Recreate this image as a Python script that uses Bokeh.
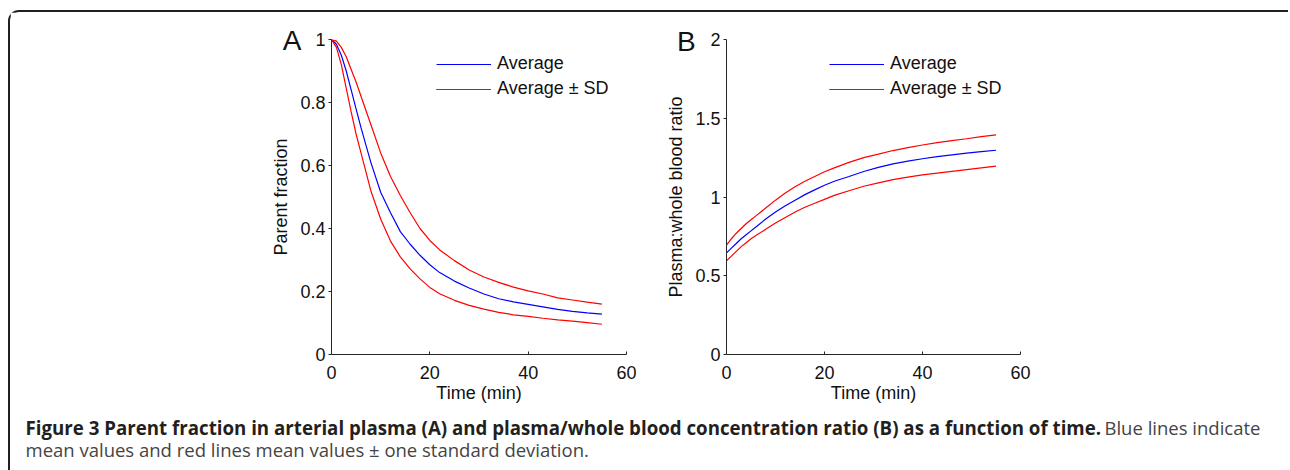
from bokeh.plotting import figure
from bokeh.models import Range1d, FixedTicker, Legend, LegendItem, Label
from bokeh.layouts import row, column
from bokeh.embed import file_html
from bokeh.resources import INLINE

# ---------------- data ----------------
time_min = [0, 1, 2, 3, 4, 5, 6, 8, 10, 12, 14, 16, 18, 20, 22, 25, 28, 31, 34, 37, 40, 43, 46, 49, 52, 55]

parent_avg = [1.0, 0.985, 0.95, 0.90, 0.84, 0.78, 0.72, 0.61, 0.515, 0.45, 0.39, 0.35, 0.315, 0.285, 0.26,
              0.233, 0.211, 0.192, 0.177, 0.167, 0.159, 0.151, 0.143, 0.137, 0.132, 0.128]
parent_hi = [1.0, 0.995, 0.975, 0.945, 0.905, 0.865, 0.82, 0.73, 0.64, 0.565, 0.505, 0.45, 0.40, 0.362, 0.332,
             0.298, 0.268, 0.246, 0.229, 0.214, 0.202, 0.192, 0.180, 0.173, 0.166, 0.160]
parent_lo = [1.0, 0.975, 0.92, 0.845, 0.77, 0.70, 0.64, 0.52, 0.43, 0.36, 0.31, 0.272, 0.24, 0.213, 0.193,
             0.172, 0.156, 0.144, 0.134, 0.126, 0.121, 0.115, 0.110, 0.106, 0.101, 0.096]

ratio_avg = [0.645, 0.675, 0.705, 0.735, 0.76, 0.785, 0.81, 0.86, 0.905, 0.945, 0.98, 1.015, 1.045, 1.075, 1.10,
             1.13, 1.162, 1.188, 1.21, 1.228, 1.243, 1.256, 1.267, 1.278, 1.288, 1.297]
ratio_hi = [0.695, 0.735, 0.77, 0.80, 0.83, 0.855, 0.88, 0.93, 0.98, 1.025, 1.065, 1.10, 1.13, 1.16, 1.185,
            1.22, 1.25, 1.272, 1.295, 1.313, 1.33, 1.345, 1.358, 1.37, 1.383, 1.395]
ratio_lo = [0.595, 0.625, 0.655, 0.685, 0.71, 0.735, 0.755, 0.795, 0.835, 0.87, 0.905, 0.935, 0.96, 0.985, 1.01,
            1.04, 1.068, 1.09, 1.11, 1.126, 1.14, 1.152, 1.163, 1.174, 1.185, 1.196]

x_ticks = [0, 20, 40, 60]
x_tick_labels = ["0", "20", "40", "60"]
ya_ticks = [0, 0.2, 0.4, 0.6, 0.8, 1]
ya_tick_labels = ["0", "0.2", "0.4", "0.6", "0.8", "1"]
yb_ticks = [0, 0.5, 1, 1.5, 2]
yb_tick_labels = ["0", "0.5", "1", "1.5", "2"]

legend_labels = ["Average", "Average \u00b1 SD"]
caption_bold = ("Figure 3 Parent fraction in arterial plasma (A) and plasma/whole blood "
                "concentration ratio (B) as a function of time.")
caption_rest1 = "Blue lines indicate"
caption_rest2 = "mean values and red lines mean values \u00b1 one standard deviation."

# ---------------- style ----------------
FONT = "Liberation Sans"
CAP_FONT = "Open Sans"
AX = "#262626"
TXT = "#111111"
BLUE = "#0000ff"
RED = "#ff0000"
LW = 1.2
ROW_H = 395
TOP = 27
FRAME_H = 315
ROW_STEP = 25


def style_axes(p, yt, ylab, xlabel, ylabel):
    p.xaxis.ticker = FixedTicker(ticks=x_ticks)
    p.xaxis.major_label_overrides = {t: l for t, l in zip(x_ticks, x_tick_labels)}
    p.yaxis.ticker = FixedTicker(ticks=yt)
    p.yaxis.major_label_overrides = {t: l for t, l in zip(yt, ylab)}
    p.xaxis.axis_label = xlabel
    p.yaxis.axis_label = ylabel
    for ax in (p.xaxis, p.yaxis):
        ax.axis_line_color = AX
        ax.axis_line_width = 1
        ax.major_tick_line_color = AX
        ax.minor_tick_line_color = None
        ax.major_label_text_font = FONT
        ax.major_label_text_font_size = "18px"
        ax.major_label_text_color = TXT
        ax.axis_label_text_font = FONT
        ax.axis_label_text_font_size = "18px"
        ax.axis_label_text_font_style = "normal"
        ax.axis_label_text_color = TXT
    p.xaxis.major_tick_in = 3
    p.xaxis.major_tick_out = 0
    p.yaxis.major_tick_in = 0
    p.yaxis.major_tick_out = 3
    p.xaxis.major_label_standoff = 11
    p.yaxis.major_label_standoff = 3
    p.xaxis.axis_label_standoff = 1
    p.yaxis.axis_label_standoff = 6
    p.xgrid.visible = False
    p.ygrid.visible = False
    p.outline_line_color = None


def make_legend(item, x, y):
    return Legend(items=[item], location=(x, y), margin=0, padding=0, spacing=0,
                  glyph_width=55, glyph_height=20, label_height=20, label_standoff=6,
                  label_text_font=FONT, label_text_font_size="18px", label_text_color=TXT,
                  border_line_color=None, background_fill_alpha=0)


def make_panel(width, border_left, border_right, yrange, yt, ylab, ylabel, avg, hi, lo,
               letter, letter_xy, letter_side, legend_x):
    p = figure(width=width, height=ROW_H, output_backend="svg", toolbar_location=None,
               x_range=Range1d(0, 60), y_range=Range1d(*yrange),
               min_border_left=border_left, min_border_right=border_right,
               min_border_top=TOP, min_border_bottom=ROW_H - TOP - FRAME_H)
    style_axes(p, yt, ylab, "Time (min)", ylabel)
    p.background_fill_color = "white"
    p.border_fill_color = "white"
    r_avg = p.line(time_min, avg, line_color=BLUE, line_width=LW)
    r_hi = p.line(time_min, hi, line_color=RED, line_width=LW)
    r_lo = p.line(time_min, lo, line_color=RED, line_width=LW)
    # one legend per entry, stacked
    p.add_layout(make_legend(LegendItem(label=legend_labels[1], renderers=[r_hi, r_lo]),
                             legend_x, 255))
    p.add_layout(make_legend(LegendItem(label=legend_labels[0], renderers=[r_avg]),
                             legend_x, 255 + ROW_STEP))
    p.add_layout(Label(x=letter_xy[0], y=letter_xy[1], text=letter, text_font=FONT,
                       text_font_size="28px", text_color=TXT, text_baseline="middle",
                       text_align="left", level="overlay"), letter_side)
    return p


pA = make_panel(630, 321, 14, (0, 1), ya_ticks, ya_tick_labels, "Parent fraction",
                parent_avg, parent_hi, parent_lo, "A", (-9.9, 0.997), "left", 105)
pB = make_panel(648, 86, 268, (0, 2), yb_ticks, yb_tick_labels, "Plasma:whole blood ratio",
                ratio_avg, ratio_hi, ratio_lo, "B", (-10.1, 1.985), "right", 103)

# caption
CAP_H = 63
pC = figure(width=1278, height=CAP_H, output_backend="svg", toolbar_location=None,
            x_range=Range1d(0, 1278), y_range=Range1d(CAP_H, 0),
            min_border_left=0, min_border_right=0, min_border_top=0, min_border_bottom=0)
pC.axis.visible = False
pC.grid.visible = False
pC.outline_line_color = None
pC.add_layout(Label(x=15, y=20.3, text=caption_bold, text_font=CAP_FONT, text_font_size="18.7px",
                    text_font_style="bold", text_color="#231f20", text_baseline="middle"))
pC.add_layout(Label(x=1094, y=20.3, text=caption_rest1, text_font=CAP_FONT, text_font_size="18.5px",
                    text_color="#444444", text_baseline="middle"))
pC.add_layout(Label(x=15, y=42.3, text=caption_rest2, text_font=CAP_FONT, text_font_size="18.5px",
                    text_color="#444444", text_baseline="middle"))

layout = column(row(pA, pB), pC,
                styles={"margin-top": "10px", "margin-left": "8px",
                        "border-left": "2px solid #231f20", "border-top": "2px solid #231f20",
                        "border-top-left-radius": "11px"})

open("out.html", "w").write(file_html(layout, INLINE))
